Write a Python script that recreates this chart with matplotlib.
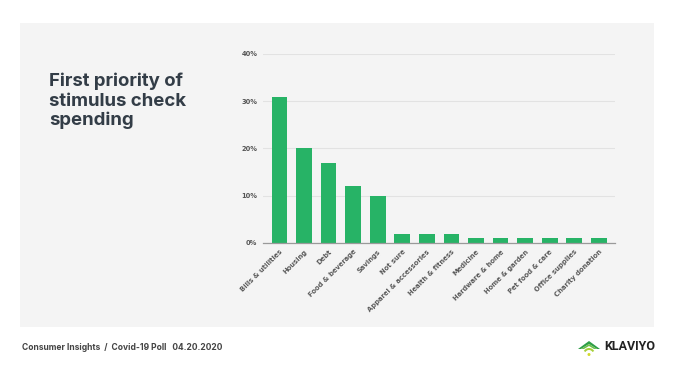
import matplotlib
matplotlib.use("Agg")
import matplotlib.pyplot as plt
from matplotlib.patches import Rectangle, Polygon, Wedge, Circle

categories = ["Bills & utilities", "Housing", "Debt", "Food & beverage", "Savings",
              "Not sure", "Apparel & accessories", "Health & fitness", "Medicine",
              "Hardware & home", "Home & garden", "Pet food & care",
              "Office supplies", "Charity donation"]
values = [31, 20, 17, 12, 10, 2, 2, 2, 1, 1, 1, 1, 1, 1]
yticks = [0, 10, 20, 30, 40]
ytick_labels = ["0%", "10%", "20%", "30%", "40%"]

W, H = 680, 383
fig = plt.figure(figsize=(6.8, 3.83), dpi=100)
fig.patch.set_facecolor("white")

# background panel
fig.patches.append(Rectangle((20 / W, 1 - 327 / H), (654 - 20) / W, (327 - 23) / H,
                             transform=fig.transFigure, facecolor="#f4f4f4",
                             edgecolor="none", zorder=-5))

ax = fig.add_axes([263 / W, 1 - 243 / H, (615 - 263) / W, (243 - 54) / H], zorder=2)
ax.set_facecolor("none")
x = list(range(len(categories)))
ax.bar(x, values, width=0.64, color="#27b366", zorder=3)
ax.set_xlim(-0.67, 13.66)
ax.set_ylim(0, 40)
ax.set_yticks(yticks)
ax.set_yticklabels(ytick_labels, fontsize=4.8, color="#555555", fontweight="bold")
ax.set_xticks(x)
ax.set_xticklabels(categories, rotation=45, ha="right", rotation_mode="anchor",
                   fontsize=4.9, color="#5a5a5a", fontweight="bold")
ax.tick_params(axis="both", length=0, pad=4)
ax.tick_params(axis="y", pad=4)
ax.grid(axis="y", color="#e2e2e2", linewidth=0.8, zorder=0)
for s in ["top", "right", "left"]:
    ax.spines[s].set_visible(False)
ax.spines["bottom"].set_color("#9a9a9a")
ax.spines["bottom"].set_linewidth(0.9)
ax.spines["bottom"].set_zorder(4)

# title
fig.text(49 / W, 1 - 73 / H, "First priority of\nstimulus check\nspending",
         ha="left", va="top", fontsize=13.4, fontweight="bold", color="#333d47",
         linespacing=1.16, family="Inter")

# footer
fig.text(22 / W, 1 - 347 / H, "Consumer Insights  /  Covid-19 Poll   04.20.2020",
         ha="left", va="center", fontsize=6.1, fontweight="bold", color="#444444",
         family="Inter")

# logo
lax = fig.add_axes([578 / W, 1 - 357 / H, 22 / W, 18 / H])
lax.set_xlim(0, 22)
lax.set_ylim(0, 18)
lax.axis("off")
lax.add_patch(Polygon([(0, 8), (11, 16), (22, 8), (19, 8), (11, 13), (3, 8)],
                      closed=True, facecolor="#2e9e48", edgecolor="none"))
lax.add_patch(Polygon([(3, 8), (11, 13), (19, 8), (16, 8), (11, 11), (6, 8)],
                      closed=True, facecolor="#6cc04a", edgecolor="none"))
lax.add_patch(Wedge((11, 3), 6, 30, 150, width=2, facecolor="#a6d03a", edgecolor="none"))
lax.add_patch(Circle((11, 2.5), 1.5, facecolor="#d4d92a", edgecolor="none"))
fig.text(604 / W, 1 - 347 / H, "KLAVIYO", ha="left", va="center", fontsize=9,
         fontweight="bold", color="#222222", family="Roboto")

fig.savefig("out.png", dpi=100)
